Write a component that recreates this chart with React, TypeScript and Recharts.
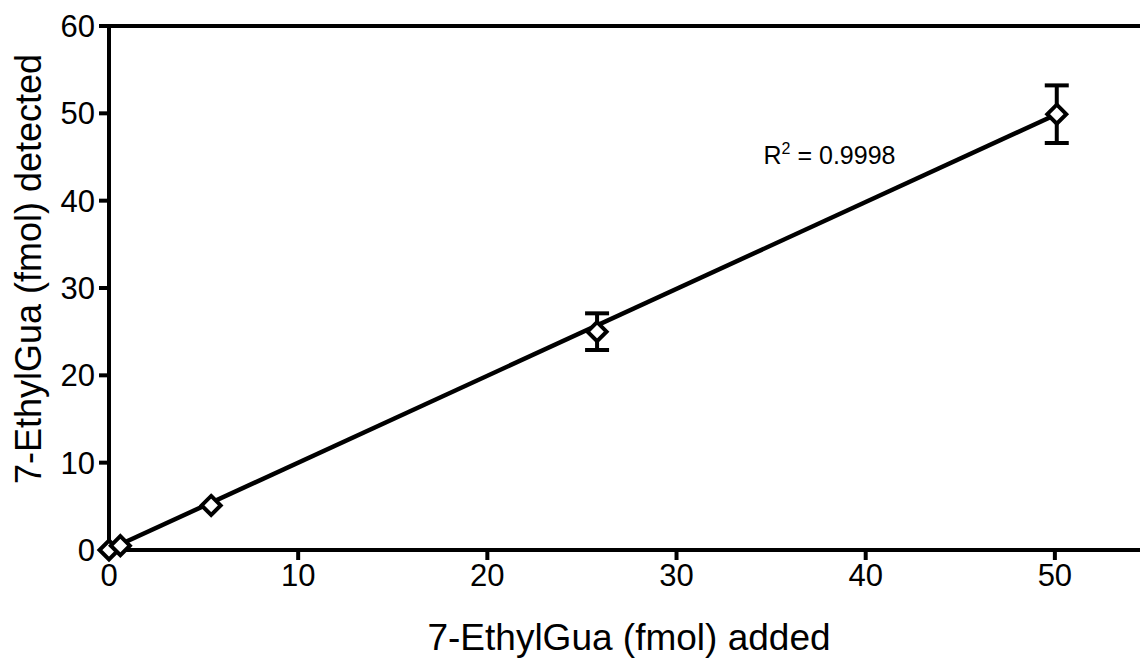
import {
  ComposedChart,
  Scatter,
  ErrorBar,
  XAxis,
  YAxis,
  ReferenceLine,
  ReferenceDot,
} from "recharts";

/* ── data ─────────────────────────────────────────────────── */
const addedPlain = [0, 0.6, 5.4];
const detectedPlain = [0, 0.5, 5.1];

const addedErr = [25.8, 50.1];
const detectedErr = [25.0, 49.9];
const errSize = [2.1, 3.3];

const fitX = [0, 50.1];
const fitY = [0.05, 49.9];

const xTicks = [0, 10, 20, 30, 40, 50];
const yTicks = [0, 10, 20, 30, 40, 50, 60];

const plainData = addedPlain.map((x, i) => ({ x, y: detectedPlain[i] }));
const errData = addedErr.map((x, i) => ({ x, y: detectedErr[i], err: errSize[i] }));
const fitData = fitX.map((x, i) => ({ x, y: fitY[i] }));

const FONT = "'Liberation Sans', Arial, sans-serif";

/* ── shapes ───────────────────────────────────────────────── */
function Diamond(props: any) {
  const { cx, cy } = props;
  const r = 9.5;
  return (
    <polygon
      points={`${cx},${cy - r} ${cx + r},${cy} ${cx},${cy + r} ${cx - r},${cy}`}
      fill="#fff"
      stroke="#000"
      strokeWidth={4}
      strokeLinejoin="miter"
    />
  );
}

function R2Label(props: any) {
  const { cx, cy } = props;
  return (
    <text x={cx} y={cy} fontFamily={FONT} fontSize={25} fill="#000">
      R
      <tspan fontSize={16} dy={-10}>
        2
      </tspan>
      <tspan dy={10}> = 0.9998</tspan>
    </text>
  );
}

export default function App() {
  return (
    <div style={{ position: "absolute", left: 0, top: 0, background: "#fff" }}>
      <ComposedChart
        width={1140}
        height={658}
        margin={{ top: 26, right: 0, bottom: 0, left: 0 }}
      >
        <XAxis
          type="number"
          dataKey="x"
          domain={[0, 54.5]}
          ticks={xTicks}
          height={108}
          tickSize={10}
          tickMargin={4}
          stroke="#000"
          strokeWidth={4}
          tick={{ fill: "#000", fontSize: 31, fontFamily: FONT }}
          label={{
            content: () => (
              <text
                x={629}
                y={650}
                textAnchor="middle"
                fontFamily={FONT}
                fontSize={37}
                fill="#000"
              >
                7-EthylGua (fmol) added
              </text>
            ),
          }}
        />
        <YAxis
          type="number"
          dataKey="y"
          domain={[0, 60]}
          ticks={yTicks}
          width={109}
          tickSize={10}
          tickMargin={4}
          stroke="#000"
          strokeWidth={4}
          tick={{ fill: "#000", fontSize: 31, fontFamily: FONT }}
          label={{
            content: () => (
              <text
                x={28}
                y={269}
                transform="rotate(-90 28 269)"
                textAnchor="middle"
                dominantBaseline="central"
                fontFamily={FONT}
                fontSize={36}
                fill="#000"
              >
                7-EthylGua (fmol) detected
              </text>
            ),
          }}
        />
        <ReferenceLine y={60} stroke="#000" strokeWidth={4} />
        <Scatter
          data={fitData}
          line={{ stroke: "#000", strokeWidth: 4.5 }}
          shape={() => null}
          isAnimationActive={false}
        />
        <Scatter data={errData} shape={Diamond} isAnimationActive={false}>
          <ErrorBar
            dataKey="err"
            direction="y"
            width={12}
            stroke="#000"
            strokeWidth={4}
          />
        </Scatter>
        <Scatter data={plainData} shape={Diamond} isAnimationActive={false} />
        <ReferenceDot x={34.6} y={44.2} r={0} shape={R2Label} />
      </ComposedChart>
    </div>
  );
}
